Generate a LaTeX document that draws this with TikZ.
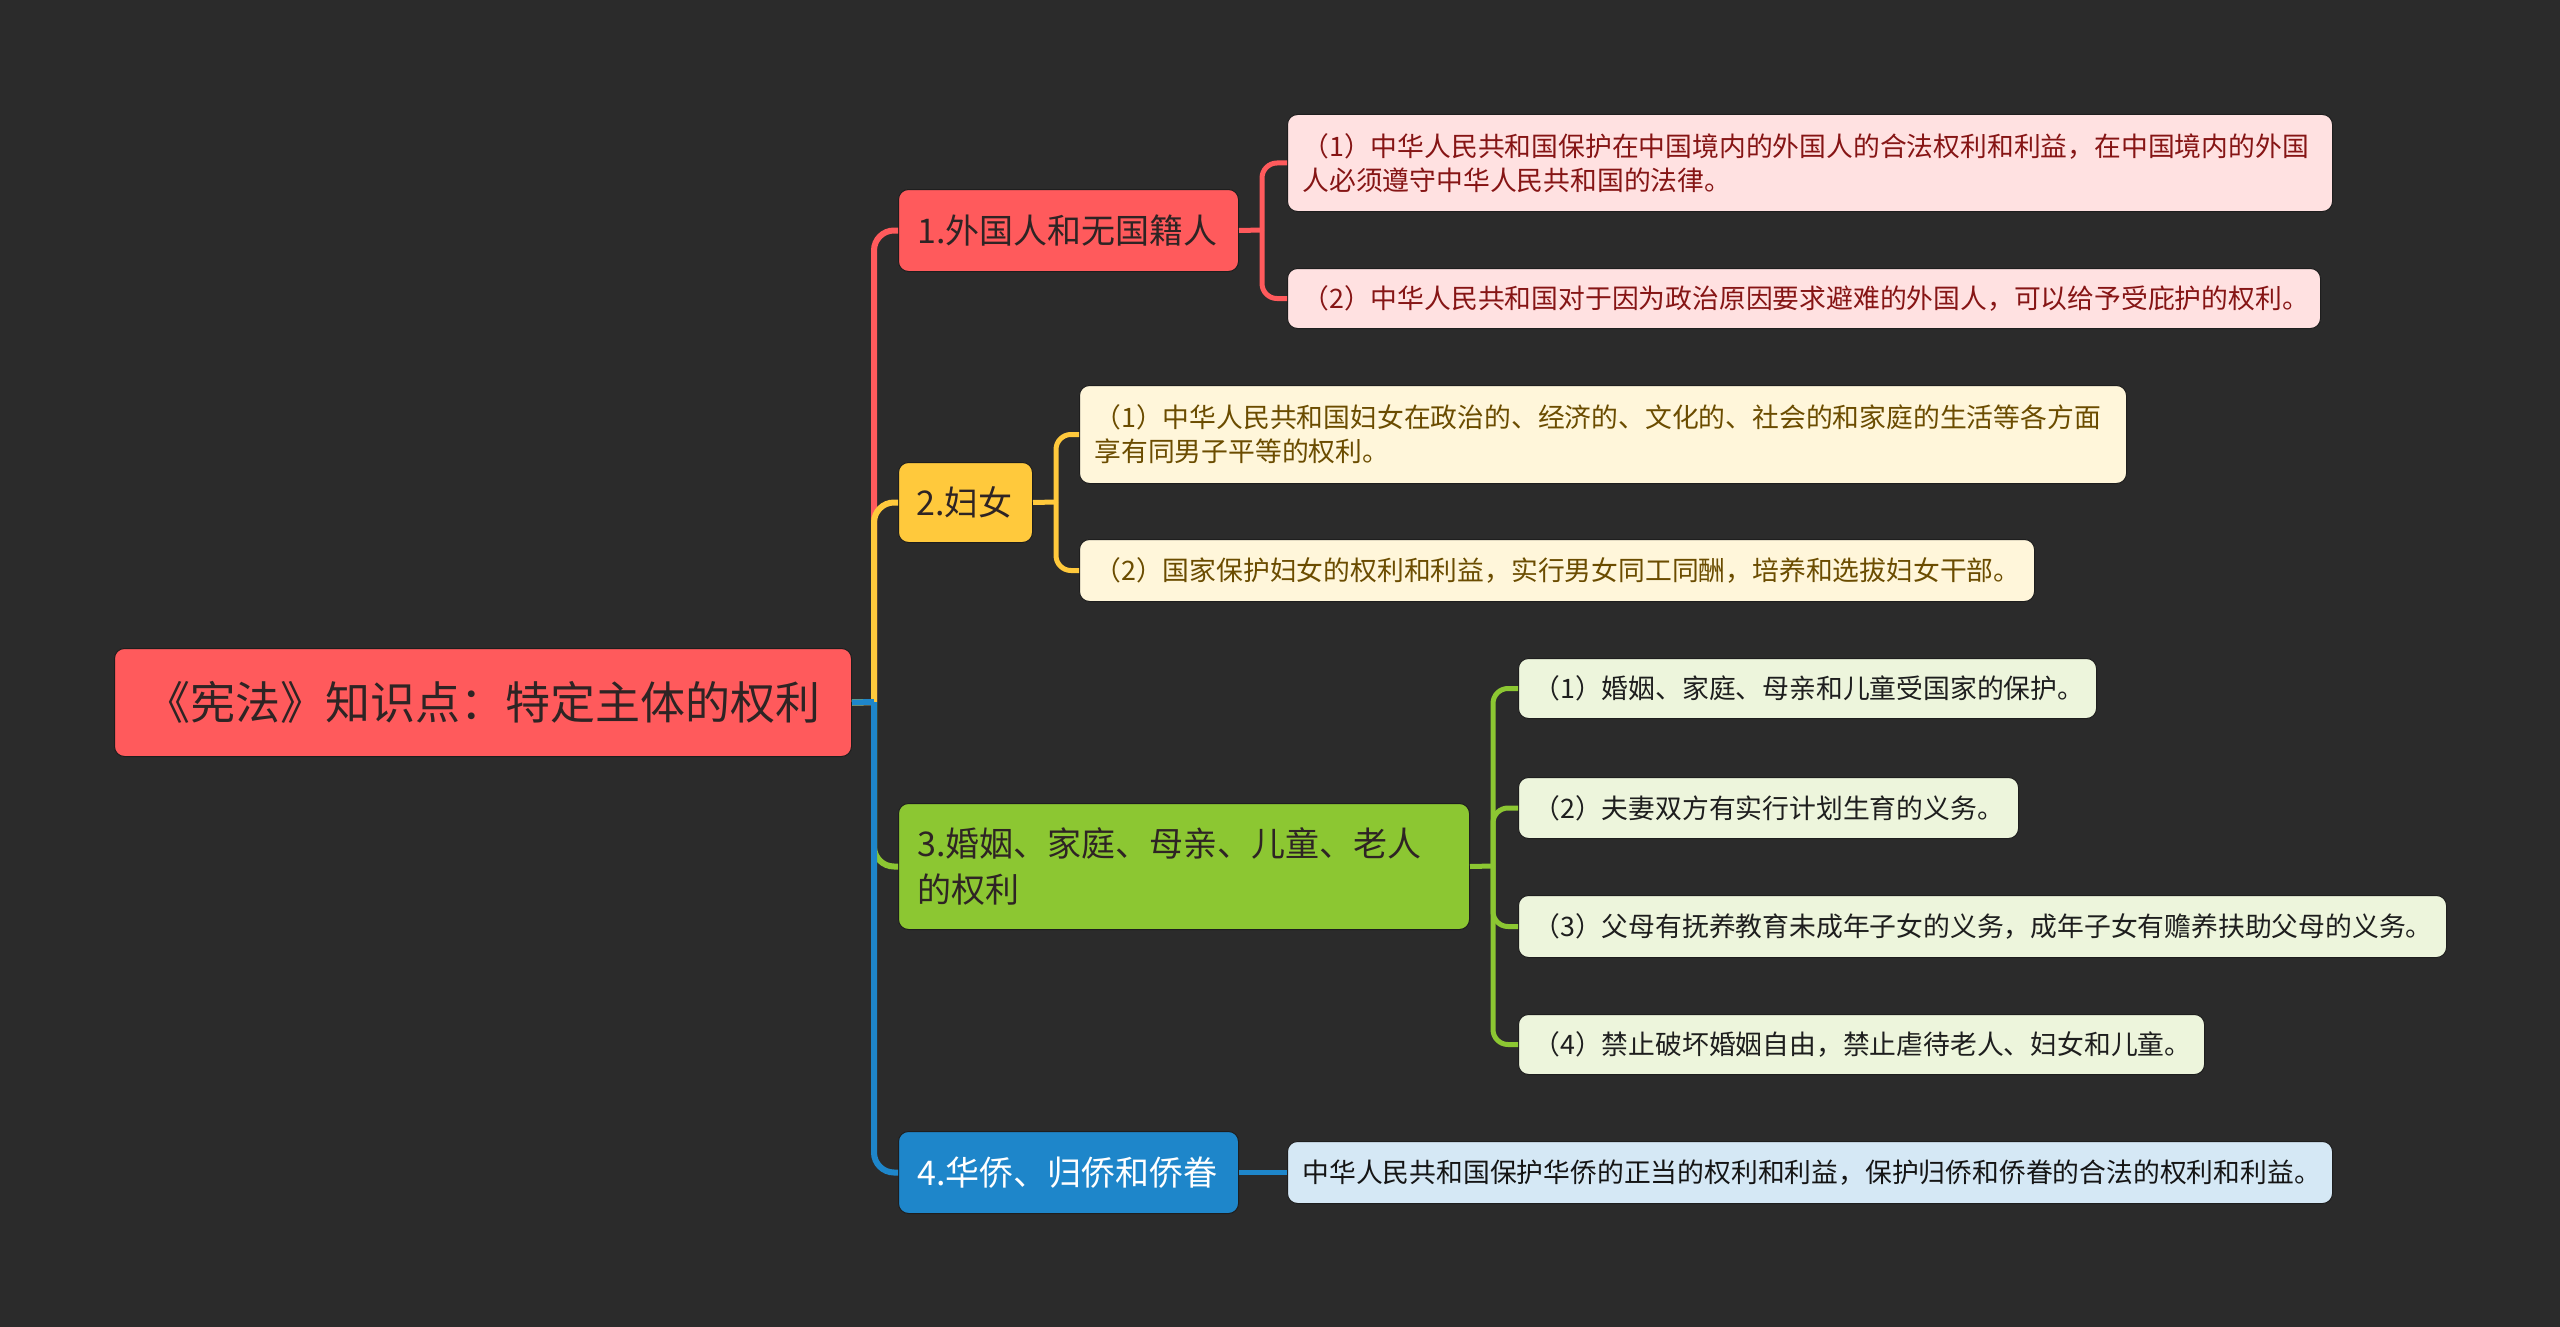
\documentclass[tikz,border=0pt]{standalone}
\usepackage{fontspec}
\setmainfont{Noto Sans CJK SC}
\definecolor{bgc}{HTML}{2B2B2B}
\definecolor{edgec}{HTML}{1E1E1E}
\definecolor{cred}{HTML}{FF5A5C}
\definecolor{cyel}{HTML}{FFC93C}
\definecolor{cgrn}{HTML}{8CC732}
\definecolor{cblu}{HTML}{1E86CA}
\definecolor{dtext}{HTML}{2E2424}
\definecolor{pinkf}{HTML}{FFE1E1}
\definecolor{pinkt}{HTML}{861515}
\definecolor{creamf}{HTML}{FFF6DA}
\definecolor{creamt}{HTML}{6B4C00}
\definecolor{greenf}{HTML}{EDF5DC}
\definecolor{greent}{HTML}{1E1E1E}
\definecolor{bluef}{HTML}{D5E8F5}
\definecolor{bluet}{HTML}{151515}
\begin{document}
\begin{tikzpicture}[x=1pt,y=-1pt,
  base/.style={rounded corners=10, draw=edgec, line width=1, anchor=north west, inner ysep=0, align=left},
  rootbox/.style={base, fill=cred, text=dtext, font=\fontsize{45}{54}\selectfont, inner xsep=0, align=center},
  brbox/.style={base, inner xsep=19, text=dtext, font=\fontsize{34}{46}\selectfont},
  leaf/.style={base, inner xsep=15, font=\fontsize{26.8}{34}\selectfont},
  pinkleaf/.style={leaf, fill=pinkf, text=pinkt},
  creamleaf/.style={leaf, fill=creamf, text=creamt},
  greenleaf/.style={leaf, fill=greenf, text=greent},
  blueleaf/.style={leaf, fill=bluef, text=bluet},
  mainline/.style={line width=6},
  subline/.style={line width=5}]
\useasboundingbox (0,0) rectangle (2560,1327);
\fill[bgc] (0,0) rectangle (2560,1327);

% root
\node[rootbox, minimum width=737, minimum height=108] (root) at (114,648) {《宪法》知识点：特定主体的权利};

% branches
\node[brbox, fill=cred, text width=302, minimum height=82] (b1) at (898,189) {1.外国人和无国籍人};
\node[brbox, fill=cyel, text width=98, inner xsep=18, minimum height=80] (b2) at (898,462) {2.妇女};
\node[brbox, fill=cgrn, text width=533, minimum height=126] (b3) at (898,803) {3.婚姻、家庭、母亲、儿童、老人\\的权利};
\node[brbox, fill=cblu, text=white, text width=302, minimum height=82] (b4) at (898,1131) {4.华侨、归侨和侨眷};

% leaves
\node[pinkleaf, text width=1015, minimum height=97] (c11) at (1287,114) {（1）中华人民共和国保护在中国境内的外国人的合法权利和利益，在中国境内的外国\\人必须遵守中华人民共和国的法律。};
\node[pinkleaf, text width=1003, minimum height=60] (c12) at (1287,268) {（2）中华人民共和国对于因为政治原因要求避难的外国人，可以给予受庇护的权利。};

\node[creamleaf, text width=1017, minimum height=98] (c21) at (1079,385) {（1）中华人民共和国妇女在政治的、经济的、文化的、社会的和家庭的生活等各方面\\享有同男子平等的权利。};
\node[creamleaf, text width=925, minimum height=62] (c22) at (1079,539) {（2）国家保护妇女的权利和利益，实行男女同工同酬，培养和选拔妇女干部。};

\node[greenleaf, text width=548, minimum height=60] (c31) at (1518,658) {（1）婚姻、家庭、母亲和儿童受国家的保护。};
\node[greenleaf, text width=470, minimum height=61] (c32) at (1518,777) {（2）夫妻双方有实行计划生育的义务。};
\node[greenleaf, text width=898, minimum height=62] (c33) at (1518,895) {（3）父母有抚养教育未成年子女的义务，成年子女有赡养扶助父母的义务。};
\node[greenleaf, text width=656, minimum height=60] (c34) at (1518,1014) {（4）禁止破坏婚姻自由，禁止虐待老人、妇女和儿童。};

\node[blueleaf, text width=1015, minimum height=62] (c41) at (1287,1141) {中华人民共和国保护华侨的正当的权利和利益，保护归侨和侨眷的合法的权利和利益。};

% trunk connectors
\coordinate (t) at (874,702);
\draw[mainline, cred] (root.east) -- (t);
\draw[mainline, cred, rounded corners=20] (t) |- (b1.west);
\draw[mainline, cyel] (root.east) -- (t);
\draw[mainline, cyel, rounded corners=20] (t) |- (b2.west);
\draw[mainline, cgrn] (root.east) -- (t);
\draw[mainline, cgrn, rounded corners=20] (t) |- (b3.west);
\draw[mainline, cblu] (root.east) -- (t);
\draw[mainline, cblu, rounded corners=20] (t) |- (b4.west);

% branch 1 children
\coordinate (j1) at (1262,230);
\draw[subline, cred] (b1.east) -- (j1);
\draw[subline, cred, rounded corners=15] (j1) |- (c11.west);
\draw[subline, cred, rounded corners=15] (j1) |- (c12.west);

% branch 2 children
\coordinate (j2) at (1056,502);
\draw[subline, cyel] (b2.east) -- (j2);
\draw[subline, cyel, rounded corners=15] (j2) |- (c21.west);
\draw[subline, cyel, rounded corners=15] (j2) |- (c22.west);

% branch 3 children
\coordinate (j3) at (1493,866);
\draw[subline, cgrn] (b3.east) -- (j3);
\draw[subline, cgrn, rounded corners=15] (j3) |- (c31.west);
\draw[subline, cgrn, rounded corners=15] (j3) |- (c32.west);
\draw[subline, cgrn, rounded corners=15] (j3) |- (c33.west);
\draw[subline, cgrn, rounded corners=15] (j3) |- (c34.west);

% branch 4 child
\draw[subline, cblu] (b4.east) -- (c41.west);
\end{tikzpicture}
\end{document}
